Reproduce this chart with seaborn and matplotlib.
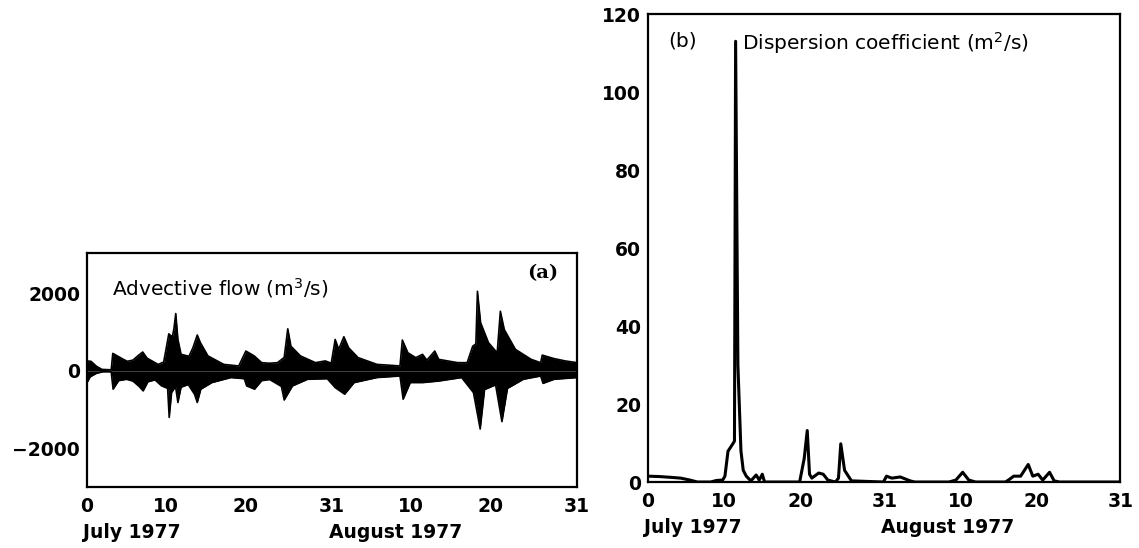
import numpy as np
import pandas as pd
import matplotlib
matplotlib.use("Agg")
import matplotlib.pyplot as plt
import seaborn as sns

# Advective flow envelope (m3/s); day 0 = 1 July 1977
upper_days = [0.0, 0.5, 1.2, 1.9, 3.06, 3.26, 4.6, 5.1, 5.8, 6.6, 7.05, 7.6, 9.0, 9.7,
              10.35, 10.8, 11.0, 11.23, 11.5, 11.9, 12.9, 13.4, 13.95, 14.35, 15.3,
              17.3, 19.2, 20.1, 21.15, 22.1, 23.1, 24.1, 24.95, 25.4, 25.8, 27.0,
              28.9, 30.15, 30.9, 31.4, 31.85, 32.5, 33.1, 34.3, 36.7, 39.6, 39.9,
              40.6, 41.6, 42.45, 43.0, 44.0, 44.5, 46.9, 48.1, 48.8, 49.2, 49.4,
              49.8, 50.8, 51.9, 52.3, 52.8, 54.2, 56.2, 57.4, 57.6, 59.1, 60.5, 62.0]
upper_flow = [258, 250, 120, 40, 30, 455, 300, 250, 280, 420, 490, 330, 170, 230,
              960, 880, 1100, 1485, 815, 430, 380, 600, 930, 730, 390,
              170, 130, 515, 390, 215, 200, 215, 350, 1090, 640, 390,
              215, 260, 200, 815, 560, 885, 600, 345, 170, 130, 800,
              470, 345, 430, 280, 515, 300, 215, 215, 640, 700, 2060,
              1250, 730, 470, 1545, 1070, 560, 300, 215, 410, 320, 260, 215]

lower_days = [0.0, 0.4, 1.2, 2.0, 3.06, 3.3, 4.0, 5.0, 5.8, 6.6, 7.1, 7.7, 8.6, 9.4,
              10.2, 10.4, 10.7, 11.2, 11.5, 11.9, 12.8, 13.6, 13.95, 14.4, 15.8,
              18.2, 19.9, 20.2, 21.2, 22.1, 23.1, 24.6, 24.95, 26.0, 27.9, 30.4,
              31.4, 32.6, 33.8, 36.7, 39.6, 40.0, 40.9, 42.5, 44.5, 47.4, 48.9,
              49.75, 50.3, 51.7, 52.5, 53.2, 55.2, 57.4, 57.7, 59.1, 62.0]
lower_flow = [-300, -150, -60, -20, -20, -470, -250, -215, -260, -400, -515, -280, -230, -380,
              -450, -1200, -560, -400, -815, -420, -350, -600, -815, -470, -300,
              -170, -200, -386, -470, -250, -220, -400, -750, -386, -215, -200,
              -430, -600, -300, -170, -130, -730, -300, -300, -260, -170, -560,
              -1500, -480, -360, -1310, -450, -215, -130, -320, -215, -170]

# Dispersion coefficient (m2/s), panel (b)
disp_days = [0.0, 1.5, 3.0, 4.3, 5.5, 6.5, 8.2, 9.0, 9.8, 10.1, 10.5, 11.2, 11.35,
             11.5, 11.8, 12.2, 12.5, 12.9, 13.5, 14.2, 14.6, 15.0, 15.3, 16.0,
             19.9, 20.2, 20.5, 20.9, 21.2, 21.5, 22.4, 23.0, 23.6, 24.6, 25.0,
             25.3, 25.8, 26.7, 30.9, 31.3, 32.0, 33.1, 34.4, 35.0, 39.5, 40.4,
             41.3, 42.1, 43.0, 46.9, 47.3, 48.0, 48.9, 49.9, 50.5, 51.2, 51.8,
             52.7, 53.3, 54.0, 62.0]
disp_coef = [1.5, 1.4, 1.2, 1.0, 0.5, 0.0, 0.0, 0.4, 0.5, 1.5, 7.9, 10.0, 10.5,
             113.0, 30.0, 8.0, 3.0, 1.5, 0.3, 1.8, 0.5, 2.0, 0.0, 0.0,
             0.0, 3.0, 6.0, 13.2, 2.0, 1.0, 2.3, 2.0, 0.5, 0.0, 1.0,
             9.8, 3.0, 0.3, 0.0, 1.5, 1.0, 1.3, 0.3, 0.0, 0.0, 0.5,
             2.5, 0.5, 0.0, 0.0, 0.5, 1.5, 1.5, 4.5, 1.5, 2.0, 0.5,
             2.5, 0.3, 0.0, 0.0]

# x axis: labelled days and 5-day intermediate ticks (July / August)
label_days = [0, 10, 20, 31, 41, 51, 62]
label_text = ["0", "10", "20", "31", "10", "20", "31"]
minor_days = [5, 15, 25, 36, 46, 56]

sns.set_style("white")
plt.rcParams["font.family"] = ["DejaVu Sans"]
plt.rcParams["text.color"] = "black"
plt.rcParams["xtick.color"] = "black"
plt.rcParams["ytick.color"] = "black"
plt.rcParams["axes.labelcolor"] = "black"

fig = plt.figure(figsize=(11.39, 5.48), dpi=100)
ax_a = fig.add_axes([0.0764, 0.1113, 0.4302, 0.427])
ax_b = fig.add_axes([0.5689, 0.1204, 0.4148, 0.854])

upper = pd.DataFrame({"day": upper_days, "flow": upper_flow})
lower = pd.DataFrame({"day": lower_days, "flow": lower_flow})
disp = pd.DataFrame({"day": disp_days, "coef": disp_coef})

# panel (a): tidal flow drawn as a filled envelope
ax_a.fill_between(upper["day"], 0, upper["flow"], color="black", lw=0)
ax_a.fill_between(lower["day"], lower["flow"], 0, color="black", lw=0)
sns.lineplot(data=upper, x="day", y="flow", ax=ax_a, color="black", lw=1.2)
sns.lineplot(data=lower, x="day", y="flow", ax=ax_a, color="black", lw=1.2)
ax_a.set_ylim(-3000, 3050)
ax_a.set_yticks([-2000, 0, 2000])
ax_a.set_yticklabels(["\u22122000", "0", "2000"])
ax_a.set_yticks([-1000, 1000], minor=True)
ax_a.text(3.1, 2150, r"Advective flow (m$^3$/s)", fontsize=14.5, va="center",
          color="black")
ax_a.text(59.6, 2530, "(a)", fontsize=14, fontweight="bold", family="serif",
          ha="right", va="center", color="black")

# panel (b): dispersion coefficient
sns.lineplot(data=disp, x="day", y="coef", ax=ax_b, color="black", lw=2.2)
ax_b.set_ylim(0, 120)
ax_b.set_yticks(np.arange(0, 121, 20))
ax_b.set_yticks(np.arange(10, 120, 20), minor=True)
ax_b.text(2.6, 113, "(b)", fontsize=14.5, va="center", color="black")
ax_b.text(12.3, 112.5, r"Dispersion coefficient (m$^2$/s)", fontsize=14.5,
          va="center", color="black")

for ax in (ax_a, ax_b):
    ax.set_xlim(0, 62)
    ax.set_xticks(label_days)
    ax.set_xticklabels(label_text)
    ax.set_xticks(minor_days, minor=True)
    ax.set_xlabel("")
    ax.set_ylabel("")
    ax.tick_params(which="both", direction="in", width=1.5, color="black",
                   labelcolor="black", labelsize=13.5)
    ax.tick_params(axis="x", which="both", length=10, pad=7, top=False)
    ax.tick_params(axis="y", which="both", length=12, pad=5, right=False)
    for lab in ax.get_xticklabels() + ax.get_yticklabels():
        lab.set_fontweight("bold")
    for s in ax.spines.values():
        s.set_color("black")
        s.set_linewidth(1.6)
    ax.annotate("July 1977", xy=(0, 0), xycoords=("data", "axes fraction"),
                xytext=(-3, -33), textcoords="offset points", color="black",
                fontsize=13.5, fontweight="bold", ha="left", va="center")
    ax.annotate("August 1977", xy=(30.6, 0), xycoords=("data", "axes fraction"),
                xytext=(0, -33), textcoords="offset points", color="black",
                fontsize=13.5, fontweight="bold", ha="left", va="center")

fig.savefig("out.png", dpi=100, facecolor="white")
